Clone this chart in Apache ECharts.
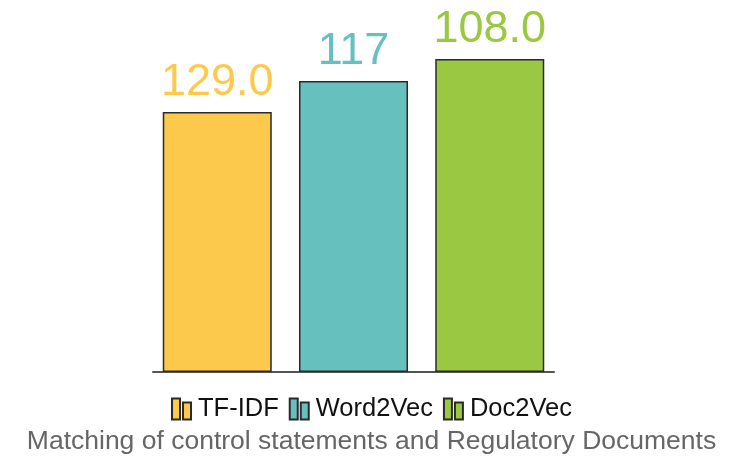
<!DOCTYPE html>
<html>
<head>
<meta charset="utf-8">
<script src="https://cdn.jsdelivr.net/npm/echarts@6/dist/echarts.min.js"></script>
<style>html,body{margin:0;padding:0;background:#fff}#c{width:743px;height:456px}</style>
</head>
<body>
<div id="c"></div>
<script>
const categories = ['Matching'];
const seriesNames = ['TF-IDF', 'Word2Vec', 'Doc2Vec'];
const barValues = [7.69, 8.61, 9.26];
const labelTexts = ['129.0', '117', '108.0'];
const colors = ['#FDC94C', '#66C0BE', '#9AC842'];
const titleText = 'Matching of control statements and Regulatory Documents';

const chart = echarts.init(document.getElementById('c'));
const icon = 'path://M0,0 L8,0 L8,21 L0,21 Z M11,4 L19,4 L19,21 L11,21 Z';
chart.setOption({
  animation: false,
  title: {
    text: titleText, left: 'center', top: 423,
    textStyle: { color: '#666', fontSize: 26.5, fontWeight: 'normal', fontFamily: 'Liberation Sans' }
  },
  legend: {
    top: 391, left: 'center', itemWidth: 19, itemHeight: 21, itemGap: 10,
    icon: icon,
    textStyle: { color: '#111', fontSize: 25.5, fontFamily: 'Liberation Sans', padding: [0, 0, 0, 2] },
    data: seriesNames
  },
  grid: { left: 153, right: 189, top: 34, bottom: 84 },
  xAxis: {
    type: 'category', data: categories,
    axisLine: { lineStyle: { color: '#555', width: 2 } },
    axisTick: { show: false }, axisLabel: { show: false }
  },
  yAxis: { type: 'value', min: 0, max: 10, show: false, splitLine: { show: false } },
  series: seriesNames.map((n, i) => ({
    name: n, type: 'bar', barWidth: 109, barGap: '25%',
    data: [barValues[i]],
    itemStyle: { color: colors[i], borderColor: '#2a2a2a', borderWidth: 1.5 },
    label: {
      show: true, position: 'top', distance: 7,
      formatter: () => labelTexts[i],
      color: colors[i], fontSize: 45, fontFamily: 'Liberation Sans'
    }
  }))
});
</script>
</body>
</html>
